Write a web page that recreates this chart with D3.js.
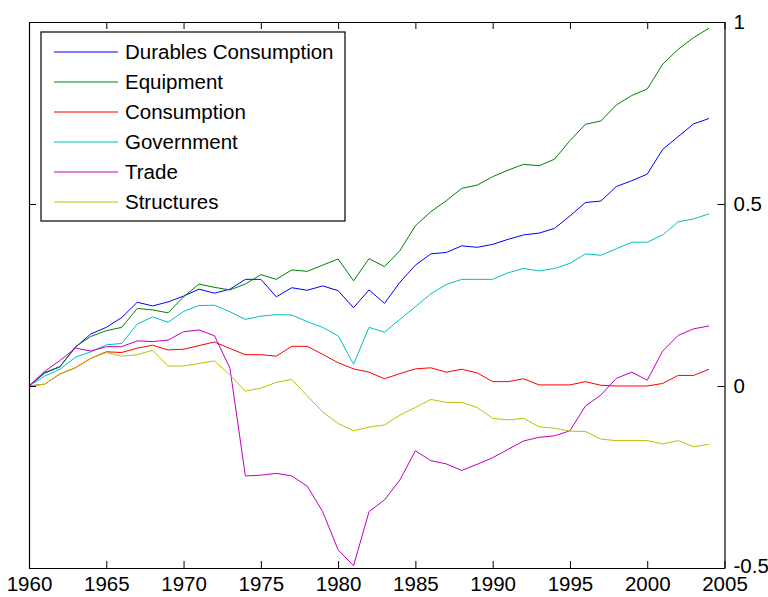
<!DOCTYPE html>
<html>
<head>
<meta charset="utf-8">
<script src="https://cdn.jsdelivr.net/npm/d3@7"></script>
<style>
  html, body { margin: 0; padding: 0; background: #fff; }
  svg { display: block; }
  text { font-family: "Liberation Sans", Arial, Helvetica, sans-serif; fill: #000; }
</style>
</head>
<body>
<svg id="chart" width="768" height="597"></svg>
<script>
// ---- Data ----
const years = d3.range(1960, 2005);
const seriesNames = ["Durables Consumption", "Equipment", "Consumption", "Government", "Trade", "Structures"];
const seriesColors = ["#0000ff", "#008000", "#ff0000", "#00bfbf", "#bf00bf", "#bfbf00"];

const durables = [0, 0.035, 0.053, 0.106, 0.143, 0.161, 0.188, 0.230, 0.220, 0.231,
  0.247, 0.266, 0.255, 0.266, 0.293, 0.293, 0.245, 0.270, 0.263, 0.275,
  0.262, 0.215, 0.264, 0.227, 0.285, 0.332, 0.363, 0.367, 0.385, 0.381,
  0.389, 0.403, 0.415, 0.420, 0.433, 0.467, 0.504, 0.508, 0.548, 0.564,
  0.582, 0.650, 0.685, 0.720, 0.735];
const equipment = [0, 0.037, 0.053, 0.108, 0.136, 0.152, 0.161, 0.213, 0.209, 0.201,
  0.245, 0.280, 0.271, 0.264, 0.280, 0.306, 0.293, 0.319, 0.315, 0.332,
  0.349, 0.289, 0.350, 0.328, 0.372, 0.440, 0.479, 0.509, 0.543, 0.552,
  0.575, 0.593, 0.609, 0.605, 0.623, 0.674, 0.719, 0.728, 0.772, 0.798,
  0.816, 0.884, 0.925, 0.957, 0.983];
const consumption = [0, 0.005, 0.033, 0.050, 0.076, 0.094, 0.092, 0.104, 0.112, 0.099,
  0.101, 0.111, 0.121, 0.103, 0.086, 0.086, 0.082, 0.109, 0.109, 0.087,
  0.064, 0.047, 0.038, 0.020, 0.034, 0.047, 0.050, 0.038, 0.046, 0.036,
  0.012, 0.012, 0.020, 0.003, 0.003, 0.003, 0.012, 0.002, 0.000, 0.000,
  0.000, 0.007, 0.029, 0.029, 0.046];
const government = [0, 0.027, 0.046, 0.079, 0.094, 0.113, 0.117, 0.170, 0.190, 0.175,
  0.205, 0.221, 0.222, 0.204, 0.183, 0.192, 0.196, 0.195, 0.177, 0.161,
  0.138, 0.060, 0.161, 0.148, 0.183, 0.218, 0.253, 0.279, 0.293, 0.293,
  0.293, 0.311, 0.323, 0.316, 0.323, 0.337, 0.363, 0.359, 0.377, 0.395,
  0.395, 0.415, 0.451, 0.459, 0.473];
const trade = [0, 0.040, 0.070, 0.104, 0.096, 0.108, 0.108, 0.124, 0.122, 0.126,
  0.149, 0.154, 0.138, 0.049, -0.247, -0.245, -0.240, -0.247, -0.275, -0.345,
  -0.450, -0.494, -0.345, -0.313, -0.258, -0.178, -0.205, -0.214, -0.232, -0.215,
  -0.197, -0.174, -0.151, -0.141, -0.137, -0.123, -0.055, -0.025, 0.021, 0.038,
  0.016, 0.096, 0.139, 0.157, 0.165];
const structures = [0, 0.005, 0.033, 0.050, 0.076, 0.092, 0.082, 0.086, 0.098, 0.055,
  0.055, 0.062, 0.069, 0.030, -0.014, -0.006, 0.010, 0.018, -0.027, -0.071,
  -0.103, -0.123, -0.113, -0.107, -0.080, -0.059, -0.037, -0.045, -0.045, -0.059,
  -0.089, -0.093, -0.089, -0.112, -0.116, -0.124, -0.125, -0.146, -0.150, -0.150,
  -0.150, -0.159, -0.150, -0.167, -0.160];

const xTicks = [1960, 1965, 1970, 1975, 1980, 1985, 1990, 1995, 2000, 2005];
const yTicks = [-0.5, 0, 0.5, 1];
const yTickLabels = ["-0.5", "0", "0.5", "1"];

const seriesValues = [durables, equipment, consumption, government, trade, structures];

// ---- Layout ----
const svg = d3.select("#chart");
const plotLeft = 29, plotRight = 724.5, plotTop = 22, plotBottom = 568;
const x = d3.scaleLinear().domain([1960, 2005]).range([plotLeft, plotRight]);
const y = d3.scaleLinear().domain([-0.5, 1]).range([plotBottom, plotTop]);

const tickFont = 20.5;
const legendFont = 20.5;
const tickLen = 7;

// Series lines
const line = d3.line().x((d, i) => x(years[i])).y(d => y(d));
seriesValues.forEach((vals, k) => {
  svg.append("path")
    .datum(vals)
    .attr("fill", "none")
    .attr("stroke", seriesColors[k])
    .attr("stroke-width", 1)
    .attr("d", line);
});

// Axes
const axisBottom = d3.axisBottom(x).tickValues(xTicks).tickFormat(d3.format("d")).tickSizeInner(-tickLen).tickSizeOuter(0).tickPadding(8);
const gB = svg.append("g").attr("transform", `translate(0,${plotBottom})`).call(axisBottom);
const axisTop = d3.axisTop(x).tickValues(xTicks).tickFormat("").tickSizeInner(-tickLen).tickSizeOuter(0);
const gT = svg.append("g").attr("transform", `translate(0,${plotTop})`).call(axisTop);
const axisRight = d3.axisRight(y).tickValues(yTicks).tickFormat(d => yTickLabels[yTicks.indexOf(d)]).tickSizeInner(-tickLen).tickSizeOuter(0).tickPadding(9);
const gR = svg.append("g").attr("transform", `translate(${plotRight},0)`).call(axisRight);
const axisLeft = d3.axisLeft(y).tickValues(yTicks).tickFormat("").tickSizeInner(-tickLen).tickSizeOuter(0);
const gL = svg.append("g").attr("transform", `translate(${plotLeft},0)`).call(axisLeft);

[gB, gT, gR, gL].forEach(g => {
  g.select(".domain").attr("stroke", "#000").attr("stroke-width", 1.2);
  g.selectAll(".tick line").attr("stroke", "#000").attr("stroke-width", 1);
  g.selectAll(".tick text").attr("font-size", tickFont).attr("font-family", "'Liberation Sans', Arial, sans-serif").attr("fill", "#000");
});
// nudge the lowest right-axis label up slightly so it clears the "2005" label
gR.selectAll(".tick").filter(d => d === -0.5).select("text").attr("dy", "0.2em");

// Legend
const lg = svg.append("g");
const lgX = 41, lgY = 32, lgW = 304, lgH = 189;
lg.append("rect").attr("x", lgX).attr("y", lgY).attr("width", lgW).attr("height", lgH)
  .attr("fill", "#fff").attr("stroke", "#000").attr("stroke-width", 1.2);
seriesNames.forEach((name, k) => {
  const cy = 52 + k * 30;
  lg.append("line").attr("x1", 54).attr("x2", 118).attr("y1", cy).attr("y2", cy)
    .attr("stroke", seriesColors[k]).attr("stroke-width", 1);
  lg.append("text").attr("x", 125).attr("y", cy).attr("dy", "0.35em")
    .attr("font-size", legendFont).text(name);
});
</script>
</body>
</html>
